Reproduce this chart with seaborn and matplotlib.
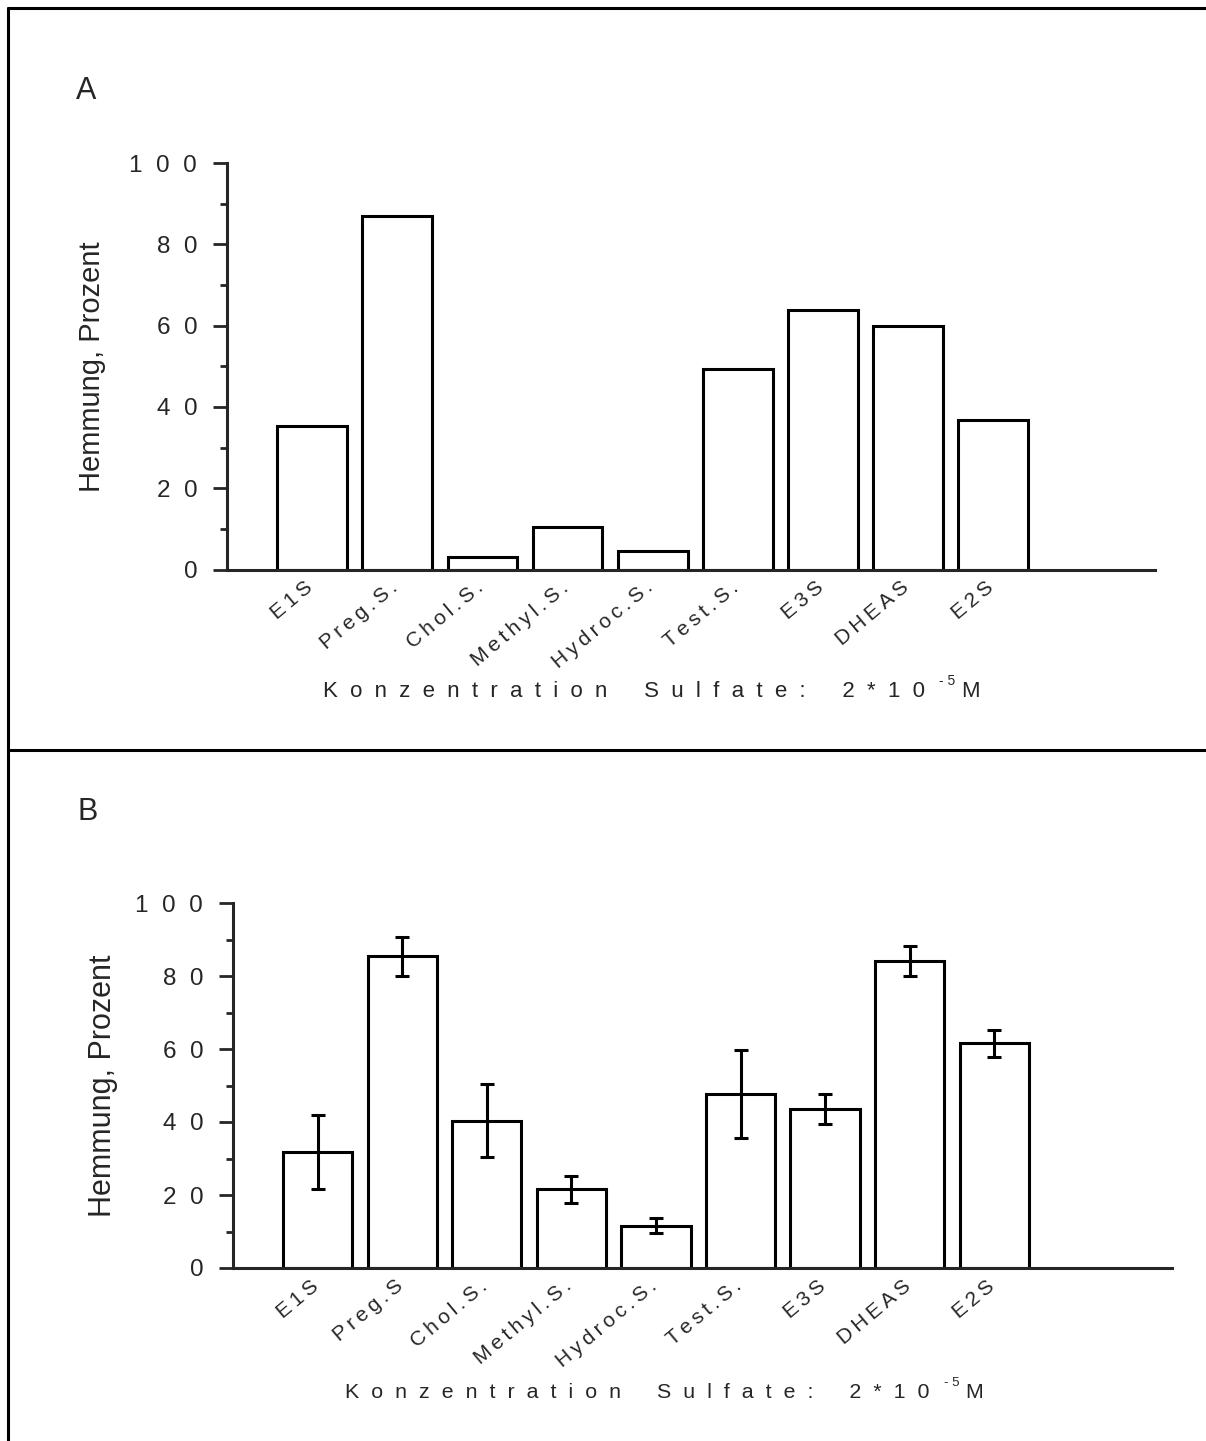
import numpy as np
import pandas as pd
import matplotlib
matplotlib.use("Agg")
import matplotlib.pyplot as plt
from matplotlib.lines import Line2D
from matplotlib.ticker import MultipleLocator, FixedLocator
from matplotlib.transforms import ScaledTranslation
import seaborn as sns

# Panel A: inhibition by each sulfate (single determination)
labels_a = ["E1S", "Preg.S.", "Chol.S.", "Methyl.S.", "Hydroc.S.",
            "Test.S.", "E3S", "DHEAS", "E2S"]
inhib_a = [35.2, 87.0, 3.1, 10.4, 4.5, 49.4, 63.9, 59.9, 36.9]

# Panel B: mean inhibition with error
labels_b = ["E1S", "Preg.S", "Chol.S.", "Methyl.S.", "Hydroc.S.",
            "Test.S.", "E3S", "DHEAS", "E2S"]
inhib_b = [31.8, 85.4, 40.3, 21.6, 11.6, 47.7, 43.6, 84.1, 61.6]
err_b = [10.2, 5.3, 10.0, 3.7, 2.0, 12.0, 4.2, 4.0, 3.7]

yticks = [0, 20, 40, 60, 80, 100]
ylabel = "Hemmung, Prozent"
xlabel_words = ["Konzentration", "Sulfate:", "2*10"]
xlabel_exp = "-5"
xlabel_unit = "M"

sns.set_style("ticks")
plt.rcParams["font.family"] = ["Liberation Sans", "DejaVu Sans"]

W, H = 1206, 1441
fig = plt.figure(figsize=(W / 100, H / 100), dpi=100)
fig.patch.set_facecolor("white")

THIN = "\u2009"


def spaced(word, gap="  "):
    return gap.join(word)


def fx(px):
    return px / W


def fy(py):
    return 1 - py / H


def draw_panel(rect, labels, values, errs, xmax, ylab_x, ylab_size):
    ax = fig.add_axes(rect)
    df = pd.DataFrame({"label": labels, "value": values})
    sns.barplot(data=df, x="label", y="value", color="white", saturation=1,
                edgecolor="black", linewidth=2.2, width=0.82,
                errorbar=None, ax=ax)
    if errs is not None:
        ax.errorbar(np.arange(len(values)), values, yerr=errs, fmt="none",
                    ecolor="black", elinewidth=2.2, capsize=5, capthick=2.2,
                    zorder=5)
    ax.set_xlim(-1, xmax)
    ax.set_ylim(0, 100)
    ax.yaxis.set_major_locator(FixedLocator(yticks))
    ax.set_yticklabels([spaced(str(v)) for v in yticks])
    ax.yaxis.set_minor_locator(MultipleLocator(10))
    ax.tick_params(axis="y", which="major", length=10, width=2, pad=11.5,
                   labelsize=17.5, direction="out")
    ax.tick_params(axis="y", which="minor", length=5, width=2,
                   direction="out")
    ax.set_xticks(range(len(labels)))
    ax.set_xticklabels([spaced(l, THIN) for l in labels], rotation=40,
                       ha="right", va="top", rotation_mode="anchor")
    ax.tick_params(axis="x", length=0, pad=6, labelsize=15)
    shift = ScaledTranslation(-8 / 100, 0, fig.dpi_scale_trans)
    for lab in ax.get_xticklabels():
        lab.set_transform(lab.get_transform() + shift)
    for side in ("top", "right"):
        ax.spines[side].set_visible(False)
    for side in ("left", "bottom"):
        ax.spines[side].set_linewidth(2.2)
    ax.set_xlabel("")
    ax.set_ylabel(ylabel, fontsize=ylab_size)
    ax.yaxis.set_label_coords(ylab_x, 0.5)
    ax.yaxis.label.set_va("center")
    ax.set_facecolor("white")
    return ax


def draw_xlabel(x_px, base_px, size):
    words = [spaced(w) for w in xlabel_words]
    main = fig.text(fx(x_px), fy(base_px), "      ".join(words),
                    fontsize=size, va="baseline", ha="left")
    fig.canvas.draw()
    x_end = main.get_window_extent().x1
    exp = fig.text((x_end + 14) / W, fy(base_px - 12), spaced(xlabel_exp, " "),
                   fontsize=size * 0.62, va="baseline", ha="left")
    fig.canvas.draw()
    x_exp = exp.get_window_extent().x1
    fig.text((x_exp + 6) / W, fy(base_px), xlabel_unit,
             fontsize=size, va="baseline", ha="left")


# Panel A axes: spine x 227..1155, y 163..569.5
draw_panel([fx(227), fy(569.5), fx(1155 - 227), (569.5 - 163) / H],
           labels_a, inhib_a, None, 9.9, -0.1455, 21)
# Panel B axes: spine x 233..1172, y 903..1268
draw_panel([fx(233), fy(1268), fx(1172 - 233), (1268 - 903) / H],
           labels_b, inhib_b, err_b, 10.1, -0.1385, 22)

fig.text(fx(76), fy(99), "A", fontsize=22, va="baseline", ha="left")
fig.text(fx(78), fy(820), "B", fontsize=22, va="baseline", ha="left")

draw_xlabel(323, 697, 16)
draw_xlabel(345, 1398, 15.4)

# Outer frame and separator between the two panels
frame_kw = dict(transform=fig.transFigure, color="black", lw=2.2)
fig.add_artist(Line2D([fx(8), 1], [fy(8), fy(8)], **frame_kw))
fig.add_artist(Line2D([fx(8), fx(8)], [fy(8), 0], **frame_kw))
fig.add_artist(Line2D([fx(8), 1], [fy(750), fy(750)], **frame_kw))

fig.savefig("out.png", dpi=100)
